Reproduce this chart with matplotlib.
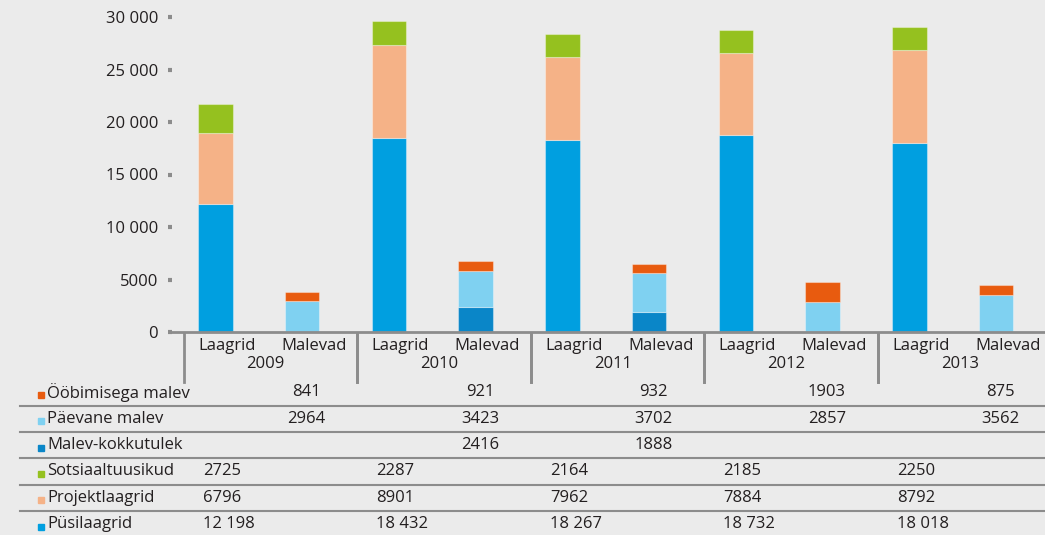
import numpy as np
import matplotlib
matplotlib.use("Agg")
from matplotlib import pyplot as plt
from matplotlib import transforms
from matplotlib.lines import Line2D

plt.rcParams['font.family'] = ['Open Sans', 'DejaVu Sans']

years = ['2009', '2010', '2011', '2012', '2013']
cats = ['Laagrid', 'Malevad']

# Laagrid stacks (bottom to top)
pysilaagrid = [12198, 18432, 18267, 18732, 18018]
projektlaagrid = [6796, 8901, 7962, 7884, 8792]
sotsiaal = [2725, 2287, 2164, 2185, 2250]
# Malevad stacks (bottom to top)
kokkutulek = [0, 2416, 1888, 0, 0]
paevane = [2964, 3423, 3702, 2857, 3562]
oobimisega = [841, 921, 932, 1903, 875]

yticks = [0, 5000, 10000, 15000, 20000, 25000, 30000]
ytick_labels = ['0', '5000', '10 000', '15 000', '20 000', '25 000', '30 000']

c_pysi = '#009fe0'
c_proj = '#f5b287'
c_sots = '#95c11f'
c_kokku = '#0a86c8'
c_paev = '#7fd1f1'
c_oob = '#e85b0f'

bg = '#ebebeb'
txt = '#231f20'
grey = '#8c8c8c'
fs = 12

fig = plt.figure(figsize=(10.45, 5.35), dpi=100, facecolor=bg)
W, H = 1045, 535
ax = fig.add_axes([172 / W, 1 - 332 / H, (1045 - 172) / W, (332 - 17) / H])
ax.set_facecolor(bg)

n = len(years)
xl = np.arange(n) * 2
xm = xl + 1
w = 0.4
ek = dict(width=w, edgecolor=(1, 1, 1, 0.35), linewidth=0.8)

b1 = np.array(pysilaagrid)
b2 = b1 + np.array(projektlaagrid)
ax.bar(xl, pysilaagrid, color=c_pysi, **ek)
ax.bar(xl, projektlaagrid, bottom=b1, color=c_proj, **ek)
ax.bar(xl, sotsiaal, bottom=b2, color=c_sots, **ek)

m1 = np.array(kokkutulek)
m2 = m1 + np.array(paevane)
ax.bar(xm, kokkutulek, color=c_kokku, **ek)
ax.bar(xm, paevane, bottom=m1, color=c_paev, **ek)
ax.bar(xm, oobimisega, bottom=m2, color=c_oob, **ek)

ax.set_xlim(-0.5, -0.5 + (1045 - 172) / 86.75)
ax.set_ylim(0, 30000)
ax.set_yticks(yticks)
ax.set_yticklabels(ytick_labels)
ax.set_xticks([])
for s in ['left', 'right', 'top']:
    ax.spines[s].set_visible(False)
ax.spines['bottom'].set_color(grey)
ax.spines['bottom'].set_linewidth(2)
ax.tick_params(axis='y', length=3, width=3, color=grey, pad=7,
               labelsize=fs, labelcolor=txt)

# category axis labels below
bt = transforms.blended_transform_factory(ax.transData, fig.transFigure)
fy = lambda py: 1 - py / H
for i, yr in enumerate(years):
    for j, c in enumerate(cats):
        ax.text(2 * i + j + 0.133, fy(346), c, transform=bt, ha='center',
                va='center', fontsize=fs, color=txt)
    ax.text(2 * i + 0.58, fy(364), yr, transform=bt, ha='center',
            va='center', fontsize=fs, color=txt)
    for xd in (2 * i - 0.363, 2 * i + 2 - 0.363):
        fig.add_artist(Line2D([xd, xd], [fy(333), fy(382)], transform=bt,
                              color=grey, lw=2, clip_on=False))

# data table
rows = [
    ('Ööbimisega malev', c_oob, oobimisega, 'm'),
    ('Päevane malev', c_paev, paevane, 'm'),
    ('Malev-kokkutulek', c_kokku, kokkutulek, 'm'),
    ('Sotsiaaltuusikud', c_sots, sotsiaal, 'l'),
    ('Projektlaagrid', c_proj, projektlaagrid, 'l'),
    ('Püsilaagrid', c_pysi, pysilaagrid, 'l'),
]


def fmt(v):
    if v >= 10000:
        return '{:,}'.format(v).replace(',', ' ')
    return str(v)


row_y0 = 392.5
row_h = 26.3
for r, (name, col, vals, kind) in enumerate(rows):
    py = row_y0 + r * row_h
    fig.add_artist(Line2D([40.5 / W], [fy(py + 2.5)], marker='s', markersize=5,
                          color=col, transform=fig.transFigure))
    fig.text(47 / W, fy(py), name, ha='left', va='center', fontsize=fs,
             color=txt)
    for i, v in enumerate(vals):
        if v == 0:
            continue
        if kind == 'l':
            ax.text(2 * i - 0.145, fy(py), fmt(v), transform=bt, ha='left',
                    va='center', fontsize=fs, color=txt)
        else:
            ax.text(2 * i + 1.05, fy(py), fmt(v), transform=bt, ha='center',
                    va='center', fontsize=fs, color=txt)
    if r < len(rows) - 1:
        ly = py + row_h / 2
        fig.add_artist(Line2D([20 / W, 1], [fy(ly), fy(ly)],
                              transform=fig.transFigure, color=grey, lw=1.5))

fig.savefig('out.png', dpi=100, facecolor=bg)
